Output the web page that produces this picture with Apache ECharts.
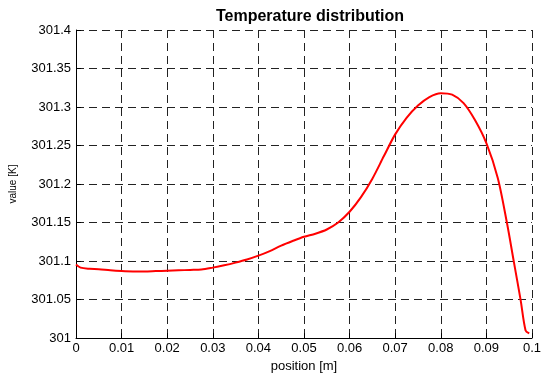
<!DOCTYPE html>
<html>
<head>
<meta charset="utf-8">
<script src="https://cdn.jsdelivr.net/npm/echarts@6/dist/echarts.min.js"></script>
<style>html,body{margin:0;padding:0;background:#fff;}#c{width:544px;height:378px;}</style>
</head>
<body>
<div id="c"></div>
<script>
var titleText = 'Temperature distribution';
var xName = 'position [m]';
var yName = 'value [K]';
var positions = [0, 0.001, 0.003, 0.005, 0.0075, 0.01, 0.0125, 0.015, 0.0175, 0.02, 0.0225, 0.025, 0.0275, 0.03, 0.0325, 0.035, 0.0375, 0.04, 0.0425, 0.045, 0.0475, 0.05, 0.0525, 0.055, 0.0575, 0.06, 0.0625, 0.065, 0.0675, 0.07, 0.0725, 0.075, 0.0775, 0.08, 0.0825, 0.085, 0.0875, 0.09, 0.0925, 0.0945, 0.096, 0.0975, 0.0986, 0.0994];
var temperatures = [301.0955, 301.0915, 301.090, 301.0895, 301.088, 301.087, 301.0865, 301.0865, 301.087, 301.0875, 301.088, 301.0885, 301.089, 301.0915, 301.0945, 301.098, 301.102, 301.107, 301.113, 301.120, 301.126, 301.1315, 301.1355, 301.141, 301.150, 301.164, 301.183, 301.207, 301.236, 301.2645, 301.286, 301.302, 301.313, 301.318, 301.316, 301.305, 301.283, 301.253, 301.208, 301.15, 301.1, 301.05, 301.01, 301.006];

var data = positions.map(function (x, i) { return [x, temperatures[i]]; });
var font = 'Arial, "Liberation Sans", sans-serif';
var chart = echarts.init(document.getElementById('c'), null, {renderer: 'canvas'});
chart.setOption({
  animation: false,
  backgroundColor: '#fff',
  title: {
    text: titleText,
    left: 305, top: 4, textAlign: 'center',
    textStyle: {fontFamily: font, fontSize: 16, fontWeight: 'bold', color: '#000'}
  },
  grid: {left: 76, right: 6, top: 30, bottom: 35, containLabel: false},
  xAxis: {
    type: 'value', min: 0, max: 0.1, interval: 0.01,
    name: xName, nameLocation: 'middle', nameGap: 17,
    nameTextStyle: {fontFamily: font, fontSize: 13, color: '#000'},
    axisLine: {show: true, onZero: false, lineStyle: {color: '#000', width: 1}},
    axisTick: {show: true, inside: true, length: 5, lineStyle: {color: '#000'}},
    axisLabel: {fontFamily: font, fontSize: 13, color: '#000', margin: 4},
    splitLine: {show: true, lineStyle: {color: '#222', width: 1, type: [8, 5]}}
  },
  yAxis: {
    type: 'value', min: 301, max: 301.4, interval: 0.05,
    name: yName, nameLocation: 'middle', nameGap: 58, nameRotate: 90,
    nameTextStyle: {fontFamily: font, fontSize: 10, color: '#000'},
    axisLine: {show: true, onZero: false, lineStyle: {color: '#000', width: 1}},
    axisTick: {show: true, inside: true, length: 5, lineStyle: {color: '#000'}},
    axisLabel: {fontFamily: font, fontSize: 13, color: '#000', margin: 5},
    splitLine: {show: true, lineStyle: {color: '#222', width: 1, type: [8, 5]}}
  },
  series: [{
    type: 'line', data: data, smooth: 0.3, showSymbol: false,
    lineStyle: {color: '#ff0000', width: 2}
  }]
});
</script>
</body>
</html>
